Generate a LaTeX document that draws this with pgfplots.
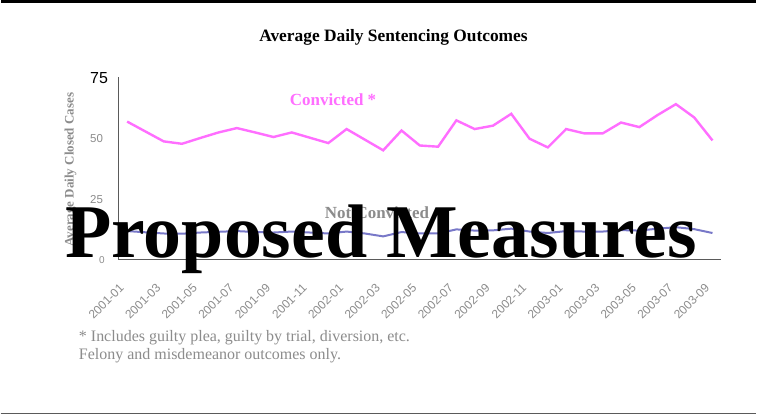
\documentclass[border=0pt]{standalone}
\usepackage{fontspec}
\setmainfont{Liberation Serif}
\newfontfamily\arialfont{Liberation Sans}
\usepackage{pgfplots}
\pgfplotsset{compat=1.18}
\definecolor{pinkline}{RGB}{255,110,255}
\definecolor{blueline}{RGB}{120,120,200}
\definecolor{txtgray}{RGB}{140,140,140}
\definecolor{axgray}{RGB}{90,90,90}

\begin{document}
\begin{tikzpicture}[x=1bp,y=1bp]
\fill[white] (0,0) rectangle (757,-417);
\fill[black] (0,0) rectangle (757,-3);
\draw[axgray, line width=1.2bp] (0,-414.5) -- (757,-414.5);
\begin{axis}[
  at={(118bp,-260bp)}, anchor=south west,
  scale only axis, width=603.7bp, height=183.3bp,
  xmin=-0.475, xmax=32.475, ymin=0, ymax=75.7,
  axis x line*=bottom, axis y line*=left,
  axis line style={axgray, line width=1bp, -},
  major tick length=0pt,
  xtick={0,2,...,32},
  xticklabels={2001-01,2001-03,2001-05,2001-07,2001-09,2001-11,2002-01,2002-03,2002-05,2002-07,2002-09,2002-11,2003-01,2003-03,2003-05,2003-07,2003-09},
  xticklabel style={font=\arialfont\fontsize{12bp}{12bp}\selectfont, text=txtgray, xshift=-8.4bp, yshift=-23bp, rotate=45, anchor=north east, inner sep=0pt},
  ytick={0,25,50,75},
  yticklabels={{\fontsize{10bp}{10bp}\selectfont\hspace{9bp}0},{25},{50},{\color{black}\fontsize{16bp}{16bp}\selectfont 75}},
  yticklabel style={font=\arialfont\fontsize{11.5bp}{11.5bp}\selectfont, text=txtgray, anchor=west, inner sep=0pt, xshift=-28.5bp},
  clip=false,
]
\addplot[pinkline, line width=2.4bp] coordinates {
(0,57.1) (1,53.0) (2,48.9) (3,47.9) (4,50.3) (5,52.6) (6,54.4) (7,52.6) (8,50.7) (9,52.6)
(10,50.4) (11,48.2) (12,54.0) (13,49.6) (14,45.2) (15,53.4) (16,47.2) (17,46.7) (18,57.6) (19,54.0)
(20,55.4) (21,60.3) (22,50.0) (23,46.4) (24,54.0) (25,52.2) (26,52.2) (27,56.7) (28,54.8) (29,59.8)
(30,64.3) (31,58.8) (32,49.3)
};
\addplot[blueline, line width=2bp] coordinates {
(0,11.8) (1,11.3) (2,10.8) (3,10.7) (4,11.2) (5,11.5) (6,11.8) (7,11.4) (8,11.2) (9,11.6)
(10,11.2) (11,10.8) (12,11.6) (13,10.8) (14,9.6) (15,11.4) (16,10.8) (17,10.8) (18,12.5) (19,12.0)
(20,12.1) (21,12.8) (22,11.6) (23,11.0) (24,11.8) (25,11.6) (26,11.6) (27,12.2) (28,12.0) (29,12.8)
(30,13.4) (31,12.6) (32,11.0)
};
\end{axis}
\node[rotate=90, text=txtgray, font=\bfseries\fontsize{13bp}{13bp}\selectfont] at (70,-170) {Average Daily Closed Cases};
\node[anchor=base, font=\bfseries\fontsize{17.4bp}{18bp}\selectfont] at (393.5,-42) {Average Daily Sentencing Outcomes};
\node[anchor=base, text=pinkline, font=\bfseries\fontsize{17bp}{17bp}\selectfont] at (333,-106) {Convicted *};
\node[anchor=base, text=txtgray, font=\bfseries\fontsize{17bp}{17bp}\selectfont] at (377,-219) {Not Convicted};
\node[anchor=base west, inner sep=0pt, text=txtgray, font=\fontsize{16bp}{16bp}\selectfont] at (78.3,-341.7) {* Includes guilty plea, guilty by trial, diversion, etc.};
\node[anchor=base west, inner sep=0pt, text=txtgray, font=\fontsize{16bp}{16bp}\selectfont] at (78.3,-360) {Felony and misdemeanor outcomes only.};
\node[anchor=base, font=\bfseries\fontsize{76bp}{77bp}\selectfont] at (381,-258) {Proposed Measures};
\end{tikzpicture}
\end{document}
